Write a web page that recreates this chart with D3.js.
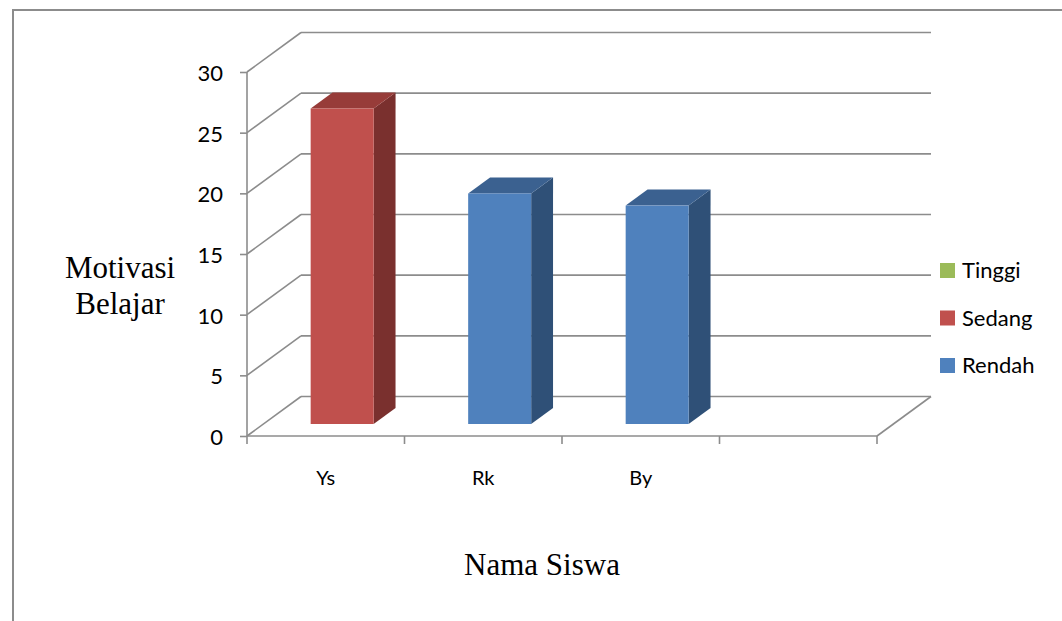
<!DOCTYPE html>
<html><head><meta charset="utf-8">
<script src="https://cdn.jsdelivr.net/npm/d3@7"></script>
<style>body{margin:0;background:#fff}svg{display:block}</style>
</head><body>
<script>
const categories = ["Ys","Rk","By",""];
const seriesNames = ["Rendah","Sedang","Tinggi"];
const rendah = [0,19,18,0];
const sedang = [26,0,0,0];
const tinggi = [0,0,0,0];
const yTicks = [0,5,10,15,20,25,30];
const legendOrder = ["Tinggi","Sedang","Rendah"];

const W=1062,H=621;
const svg=d3.select("body").append("svg").attr("width",W).attr("height",H);
const colors={Rendah:{front:"#4F81BD",side:"#2F5077",top:"#3B6190"},
              Sedang:{front:"#C0504D",side:"#7A302E",top:"#973C39"},
              Tinggi:{front:"#9BBB59",side:"#5F7536",top:"#7A9446"}};
const grid="#8c8c8c";
const sans="Lato, 'Open Sans', sans-serif";
// border
svg.append("rect").attr("x",13).attr("y",10).attr("width",1200).attr("height",800)
  .attr("fill","none").attr("stroke",grid).attr("stroke-width",2);

const x=d3.scaleBand().domain(categories).range([247,877]).padding(0);
const y=d3.scaleLinear().domain([0,30]).range([436,72]);
const DX=54,DY=-39.5;
const t0=0.304,t1=0.709;

const g=svg.append("g");
yTicks.forEach(v=>{
  g.append("line").attr("x1",247+DX).attr("x2",877+DX).attr("y1",y(v)+DY).attr("y2",y(v)+DY)
    .attr("stroke",grid).attr("stroke-width",1.6);
  g.append("line").attr("x1",247).attr("x2",247+DX).attr("y1",y(v)).attr("y2",y(v)+DY)
    .attr("stroke",grid).attr("stroke-width",1.6);
});
g.append("line").attr("x1",877).attr("y1",y(0)).attr("x2",877+DX).attr("y2",y(0)+DY)
  .attr("stroke",grid).attr("stroke-width",1.6);

const table=categories.map((c,i)=>({cat:c,Rendah:rendah[i],Sedang:sedang[i],Tinggi:tinggi[i]}));
const stack=d3.stack().keys(seriesNames)(table);
const bw=x.bandwidth()*0.4;
stack.forEach(s=>{
  const col=colors[s.key];
  s.forEach(d=>{
    if(d[1]-d[0]<=0) return;
    const xl=x(d.data.cat)+(x.bandwidth()-bw)/2+DX*t0;
    const xr=xl+bw;
    const yb=y(d[0])+DY*t0, yt=y(d[1])+DY*t0;
    const ddx=DX*(t1-t0), ddy=DY*(t1-t0);
    g.append("path").attr("d",`M${xr},${yt}L${xr+ddx},${yt+ddy}L${xr+ddx},${yb+ddy}L${xr},${yb}Z`).attr("fill",col.side);
    g.append("path").attr("d",`M${xl},${yt}L${xl+ddx},${yt+ddy}L${xr+ddx},${yt+ddy}L${xr},${yt}Z`).attr("fill",col.top);
    g.append("rect").attr("x",xl).attr("y",yt).attr("width",bw).attr("height",yb-yt).attr("fill",col.front);
  });
});

const yAxis=d3.axisLeft(y).tickValues(yTicks).tickSize(7).tickPadding(17);
const ya=svg.append("g").attr("transform","translate(247,0)").call(yAxis);
ya.select(".domain").attr("stroke",grid).attr("stroke-width",1.6).attr("d","M0,72V436");
ya.selectAll(".tick line").attr("stroke",grid).attr("stroke-width",1.6);
ya.selectAll(".tick text").attr("font-family",sans).attr("font-size",22).attr("fill","#000").attr("dy","0.38em");

const xa=svg.append("g").attr("transform","translate(0,436)");
xa.append("line").attr("x1",247).attr("x2",877).attr("stroke",grid).attr("stroke-width",1.6);
const edges=categories.map(c=>x(c)).concat([x(categories[categories.length-1])+x.bandwidth()]);
edges.forEach(e=>xa.append("line").attr("x1",e).attr("x2",e).attr("y1",0).attr("y2",8).attr("stroke",grid).attr("stroke-width",1.6));
categories.forEach(c=>xa.append("text").attr("x",x(c)+x.bandwidth()/2).attr("y",49)
  .attr("text-anchor","middle").attr("font-family",sans).attr("font-size",20).text(c));

const yt=svg.append("text").attr("font-family","'Liberation Serif','Times New Roman',serif").attr("font-size",31).attr("text-anchor","middle");
yt.append("tspan").attr("x",120).attr("y",278).text("Motivasi");
yt.append("tspan").attr("x",120).attr("y",314).text("Belajar");
svg.append("text").attr("x",542).attr("y",575).attr("text-anchor","middle")
  .attr("font-family","'Liberation Serif','Times New Roman',serif").attr("font-size",31).text("Nama Siswa");

legendOrder.forEach((k,i)=>{
  const ly=263+i*47.5;
  svg.append("rect").attr("x",940).attr("y",ly).attr("width",15).attr("height",15).attr("fill",colors[k].front);
  svg.append("text").attr("x",962).attr("y",ly+15).attr("font-family",sans).attr("font-size",22).text(k);
});
</script>
</body></html>
